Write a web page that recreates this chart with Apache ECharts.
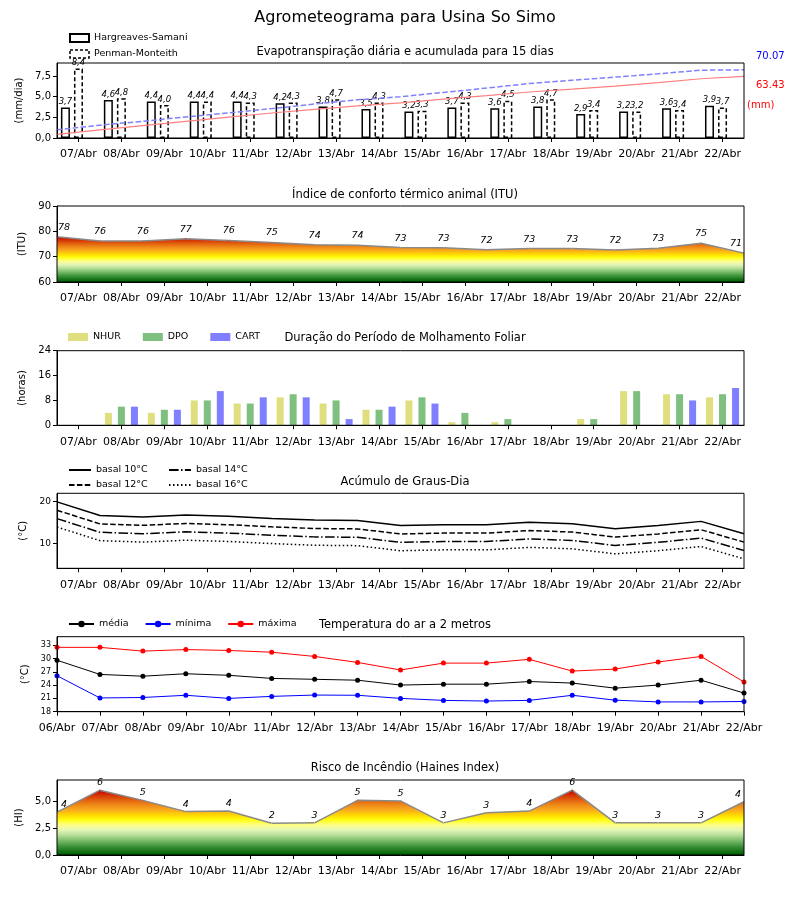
<!DOCTYPE html>
<html><head><meta charset="utf-8">
<script src="https://cdn.jsdelivr.net/npm/echarts@6.0.0/dist/echarts.min.js"></script>
<style>html,body{margin:0;padding:0;background:#fff}#c{width:800px;height:900px}</style>
</head><body><div id="c"></div>
<script>
// ---------- DATA ----------
const dias16 = ['07/Abr','08/Abr','09/Abr','10/Abr','11/Abr','12/Abr','13/Abr','14/Abr','15/Abr','16/Abr','17/Abr','18/Abr','19/Abr','20/Abr','21/Abr','22/Abr'];
const dias17 = ['06/Abr','07/Abr','08/Abr','09/Abr','10/Abr','11/Abr','12/Abr','13/Abr','14/Abr','15/Abr','16/Abr','17/Abr','18/Abr','19/Abr','20/Abr','21/Abr','22/Abr'];

const etHargreaves = [3.7,4.6,4.4,4.4,4.4,4.2,3.8,3.5,3.2,3.7,3.6,3.8,2.9,3.2,3.6,3.9];
const etPenman     = [8.4,4.8,4.0,4.4,4.3,4.3,4.7,4.3,3.3,4.3,4.5,4.7,3.4,3.2,3.4,3.7];
const etAcumHargreaves = [3.7,8.3,12.7,17.1,21.5,25.7,29.5,33.0,36.2,39.9,43.5,47.3,50.2,53.4,57.0,60.9,63.43];
const etAcumPenman     = [8.4,13.2,17.2,21.6,25.9,30.2,34.9,39.2,42.5,46.8,51.3,56.0,59.4,62.6,66.0,69.7,70.07];
const etTicks = [0,2.5,5,7.5];

const itu       = [77.9,76.2,76.2,77.1,76.4,75.6,74.7,74.5,73.6,73.5,72.7,73.2,73.2,72.6,73.3,75.3,71.4];
const ituLabels = [78,76,76,77,76,75,74,74,73,73,72,73,73,72,73,75,71];

const molhNHUR = [0,4,4,8,7,9,7,5,8,1,1,0,2,11,10,9];
const molhDPO  = [0,6,5,8,7,10,8,5,9,4,2,0,2,11,10,10];
const molhCART = [0,6,5,11,9,9,2,6,7,0,0,0,0,0,8,12];

const gdBasal10 = [19.85,16.6,16.25,16.7,16.4,15.9,15.5,15.4,14.2,14.4,14.4,15.0,14.65,13.45,14.2,15.2,12.25];
const gdBasal12 = [17.85,14.6,14.25,14.7,14.4,13.9,13.5,13.4,12.2,12.4,12.4,13.0,12.65,11.45,12.2,13.2,10.25];
const gdBasal14 = [15.85,12.6,12.25,12.7,12.4,11.9,11.5,11.4,10.2,10.4,10.4,11.0,10.65,9.45,10.2,11.2,8.25];
const gdBasal16 = [13.85,10.6,10.25,10.7,10.4,9.9,9.5,9.4,8.2,8.4,8.4,9.0,8.65,7.45,8.2,9.2,6.25];
const gdTicks = [10,20];

const tMax = [32.5,32.5,31.65,32.0,31.8,31.4,30.45,29.1,27.4,28.95,28.95,29.8,27.15,27.6,29.2,30.45,24.7];
const tMed = [29.6,26.4,26.0,26.55,26.2,25.5,25.3,25.1,24.0,24.2,24.2,24.8,24.45,23.3,24.0,25.1,22.2];
const tMin = [26.1,21.1,21.2,21.7,21.0,21.45,21.75,21.7,21.0,20.55,20.4,20.55,21.7,20.6,20.2,20.2,20.3];
const tTicks = [18,21,24,27,30,33];

const haines       = [4.0,6.05,5.1,4.05,4.1,2.97,3.0,5.1,5.05,3.0,3.95,4.1,6.05,3.0,3.0,3.0,4.97];
const hainesLabels = [4,6,5,4,4,2,3,5,5,3,3,4,6,3,3,3,4];
const hainesTicks = [0,2.5,5];

// ---------- STYLE ----------
const FONT = 'DejaVu Sans';
const HEAT = ['#005c00','#1f7a1f','#4a9c46','#7fbf6e','#b6df9a','#e4f6b6','#ffff8c','#ffff14','#ffd800','#f9ac1e','#ef8a18','#e2620e','#d53206','#c80000'];
const comma1 = v => Number(v).toFixed(1).replace('.', ',');
const gridTops = [63, 206, 350.7, 493.3, 636.7, 780];
const gridH = [75, 76, 74.6, 75, 75, 75];

const grids = gridTops.map((t,i) => ({left:57, right:56, top:t, height:gridH[i], show:true, z:5,
  backgroundColor:'transparent', borderColor:'#000', borderWidth:1, outerBoundsMode:'none', containLabel:false}));

function catAxis(gi, data, extra) {
  return Object.assign({type:'category', gridIndex:gi, data:data, boundaryGap:true,
    axisLine:{show:true, lineStyle:{color:'#000', width:1}},
    axisTick:{show:true, alignWithLabel:true, length:4, lineStyle:{color:'#000'}},
    axisLabel:{interval:0, fontSize:11, color:'#000', fontFamily:FONT, margin:11},
    splitLine:{show:false}}, extra||{});
}
function hidAxis(gi) {
  return {type:'category', gridIndex:gi, data:dias17, boundaryGap:false, show:false};
}
function valAxis(gi, min, max, name, opts) {
  opts = opts || {};
  const a = {type:'value', gridIndex:gi, min:min, max:max, name:name, nameLocation:'middle', nameGap:opts.gap||30,
    nameRotate:90, nameTextStyle:{fontSize:10, color:'#000', fontFamily:FONT},
    axisLine:{show:true, lineStyle:{color:'#000'}},
    axisTick:{show:true, length:4, lineStyle:{color:'#000'}},
    axisLabel:{fontSize:opts.fs||10, color:'#000', fontFamily:FONT, margin:6},
    splitLine:{show:false}};
  if (opts.interval) a.interval = opts.interval;
  if (opts.ticks) { a.axisLabel.customValues = opts.ticks; a.axisTick.customValues = opts.ticks; }
  if (opts.fmt) a.axisLabel.formatter = opts.fmt;
  return a;
}

const xAxes = [
  catAxis(0, dias16), hidAxis(0),
  catAxis(1, dias16), hidAxis(1),
  catAxis(2, dias16),
  catAxis(3, dias16), hidAxis(3),
  catAxis(4, dias17, {boundaryGap:false, axisTick:{show:true, length:4, lineStyle:{color:'#000'}}}),
  catAxis(5, dias16), hidAxis(5)
];
const yAxes = [
  valAxis(0, 0, 9.07, '(mm/dia)', {ticks:etTicks, fmt:comma1, gap:32}),
  {type:'value', gridIndex:0, position:'right', min:0, max:77.1, name:'(mm)', nameLocation:'middle', nameGap:3, nameRotate:0,
    nameTextStyle:{fontSize:10, color:'#ff0000', fontFamily:FONT, align:'left', verticalAlign:'top'},
    axisLine:{show:false}, axisTick:{show:false}, axisLabel:{show:false}, splitLine:{show:false}},
  valAxis(1, 60, 90, '(ITU)', {interval:10, gap:26}),
  valAxis(2, 0, 24, '(horas)', {interval:8, gap:26}),
  valAxis(3, 4, 21.9, '(°C)', {ticks:gdTicks, fs:9, gap:26}),
  valAxis(4, 18, 34.9, '(°C)', {ticks:tTicks, fs:8, gap:26}),
  valAxis(5, 0, 7.0, '(HI)', {ticks:hainesTicks, fmt:comma1, gap:30})
];

const barLabel = {show:true, position:'top', distance:1, fontSize:8.5, fontStyle:'italic', color:'#000', fontFamily:FONT,
  formatter: p => comma1(p.value)};

function labeledItems(vals, labels, firstDx, lastDx) {
  return vals.map((v,i) => {
    const it = {value:v};
    if (i === 0) it.label = {offset:[firstDx,0]};
    if (i === vals.length-1) it.label = {offset:[lastDx,0]};
    return it;
  });
}

const series = [
  {name:'Hargreaves-Samani', type:'bar', xAxisIndex:0, yAxisIndex:0, data:etHargreaves, barWidth:9, barGap:'45%',
    itemStyle:{color:'#fff', borderColor:'#000', borderWidth:1.5}, label:barLabel},
  {name:'Penman-Monteith', type:'bar', xAxisIndex:0, yAxisIndex:0, data:etPenman, barWidth:9, barGap:'45%',
    itemStyle:{color:'#fff', borderColor:'#000', borderWidth:1.5, borderType:[4,2.5]}, label:barLabel},
  {name:'_spacer', type:'bar', xAxisIndex:0, yAxisIndex:0, data:[], barWidth:9, barGap:'45%'},
  {name:'acumPM', type:'line', xAxisIndex:1, yAxisIndex:1, data:etAcumPenman, symbol:'none', z:3,
    lineStyle:{color:'#8080ff', width:1.5, type:[5.5,2.4]},
    endLabel:{show:true, formatter:p => Number(p.value).toFixed(2), color:'#0000ff', fontSize:10, fontFamily:FONT, offset:[4,-13]}},
  {name:'acumHS', type:'line', xAxisIndex:1, yAxisIndex:1, data:etAcumHargreaves, symbol:'none', z:3,
    lineStyle:{color:'#ff8080', width:1.2},
    endLabel:{show:true, formatter:p => Number(p.value).toFixed(2), color:'#ff0000', fontSize:10, fontFamily:FONT, offset:[4,9]}},
  // ITU (index 5)
  {name:'ITU', type:'line', xAxisIndex:3, yAxisIndex:2, data:labeledItems(itu, ituLabels, 7, -8),
    symbol:'circle', symbolSize:1, lineStyle:{color:'#8a8a8a', width:1.5}, areaStyle:{opacity:1, origin:'start'},
    label:{show:true, position:'top', distance:4, fontSize:9.5, fontStyle:'italic', color:'#000', fontFamily:FONT,
      formatter:p => String(ituLabels[p.dataIndex])}},
  // Molhamento
  {name:'NHUR', type:'bar', xAxisIndex:4, yAxisIndex:3, data:molhNHUR, barWidth:7, barGap:'86%', itemStyle:{color:'#dfdf7f'}},
  {name:'DPO', type:'bar', xAxisIndex:4, yAxisIndex:3, data:molhDPO, barWidth:7, barGap:'86%', itemStyle:{color:'#7fbf7f'}},
  {name:'CART', type:'bar', xAxisIndex:4, yAxisIndex:3, data:molhCART, barWidth:7, barGap:'86%', itemStyle:{color:'#7f7fff'}},
  // Graus-dia
  {name:'basal 10°C', type:'line', xAxisIndex:6, yAxisIndex:4, data:gdBasal10, symbol:'none', lineStyle:{color:'#000', width:1.5, type:'solid'}, itemStyle:{color:'#000'}},
  {name:'basal 12°C', type:'line', xAxisIndex:6, yAxisIndex:4, data:gdBasal12, symbol:'none', lineStyle:{color:'#000', width:1.5, type:[5.5,2.4]}, itemStyle:{color:'#000'}},
  {name:'basal 14°C', type:'line', xAxisIndex:6, yAxisIndex:4, data:gdBasal14, symbol:'none', lineStyle:{color:'#000', width:1.5, type:[9.6,2.4,1.5,2.4]}, itemStyle:{color:'#000'}},
  {name:'basal 16°C', type:'line', xAxisIndex:6, yAxisIndex:4, data:gdBasal16, symbol:'none', lineStyle:{color:'#000', width:1.5, type:[1.5,2.5]}, itemStyle:{color:'#000'}},
  // Temperatura
  {name:'média', type:'line', xAxisIndex:7, yAxisIndex:5, data:tMed, symbol:'circle', symbolSize:5, lineStyle:{color:'#000', width:1}, itemStyle:{color:'#000'}},
  {name:'mínima', type:'line', xAxisIndex:7, yAxisIndex:5, data:tMin, symbol:'circle', symbolSize:5, lineStyle:{color:'#0000ff', width:1}, itemStyle:{color:'#0000ff'}},
  {name:'máxima', type:'line', xAxisIndex:7, yAxisIndex:5, data:tMax, symbol:'circle', symbolSize:5, lineStyle:{color:'#ff0000', width:1}, itemStyle:{color:'#ff0000'}},
  // Haines (index 16)
  {name:'Haines', type:'line', xAxisIndex:9, yAxisIndex:6, data:labeledItems(haines, hainesLabels, 7, -6),
    symbol:'circle', symbolSize:1, lineStyle:{color:'#8a8a8a', width:1.5}, areaStyle:{opacity:1, origin:'start'},
    label:{show:true, position:'top', distance:2, fontSize:9.5, fontStyle:'italic', color:'#000', fontFamily:FONT,
      formatter:p => String(hainesLabels[p.dataIndex])}}
];

const titleStyle = {fontSize:11.5, fontWeight:'normal', color:'#000', fontFamily:FONT};
const subTitle = (text, top) => ({text:text, left:400, top:top, textAlign:'center', textStyle:titleStyle});

const legText = {fontSize:9.5, color:'#000', fontFamily:FONT};
const option = {
  animation:false,
  backgroundColor:'#fff',
  textStyle:{fontFamily:FONT},
  title:[
    {text:'Agrometeograma para Usina So Simo', left:400, top:5, textAlign:'center', textStyle:{fontSize:16, fontWeight:'normal', color:'#000', fontFamily:FONT}},
    subTitle('Evapotranspiração diária e acumulada para 15 dias', 41),
    subTitle('Índice de conforto térmico animal (ITU)', 184),
    subTitle('Duração do Período de Molhamento Foliar', 327),
    subTitle('Acúmulo de Graus-Dia', 471),
    subTitle('Temperatura do ar a 2 metros', 614),
    subTitle('Risco de Incêndio (Haines Index)', 757)
  ],
  legend:[
    {data:[{name:'Hargreaves-Samani'}, {name:'Penman-Monteith', itemStyle:{borderType:[3,2], borderWidth:1.5, borderColor:'#000', color:'#fff'}}],
      left:64, top:28, orient:'vertical', icon:'rect', itemWidth:19, itemHeight:8, itemGap:6, textStyle:legText},
    {data:['NHUR','DPO','CART'], left:63, top:327, orient:'horizontal', icon:'rect', itemWidth:20, itemHeight:8, itemGap:22, textStyle:legText},
    {data:['basal 10°C','basal 12°C'], left:63, top:460, orient:'vertical', itemWidth:22, itemHeight:8, itemGap:5, textStyle:legText, itemStyle:{opacity:0}},
    {data:['basal 14°C','basal 16°C'], left:163, top:460, orient:'vertical', itemWidth:22, itemHeight:8, itemGap:5, textStyle:legText, itemStyle:{opacity:0}},
    {data:['média','mínima','máxima'], left:63, top:614, orient:'horizontal', itemWidth:25, itemHeight:8, itemGap:16, textStyle:legText}
  ],
  visualMap:[
    {type:'continuous', show:false, seriesIndex:5, dimension:1, min:60, max:Math.max(...itu), inRange:{color:HEAT}, outOfRange:{color:'#c80000'}},
    {type:'continuous', show:false, seriesIndex:16, dimension:1, min:0, max:Math.max(...haines), inRange:{color:HEAT}, outOfRange:{color:'#c80000'}}
  ],
  grid:grids,
  xAxis:xAxes,
  yAxis:yAxes,
  series:series
};
const chart = echarts.init(document.getElementById('c'), null, {renderer:'canvas'});
chart.setOption(option);
</script></body></html>
